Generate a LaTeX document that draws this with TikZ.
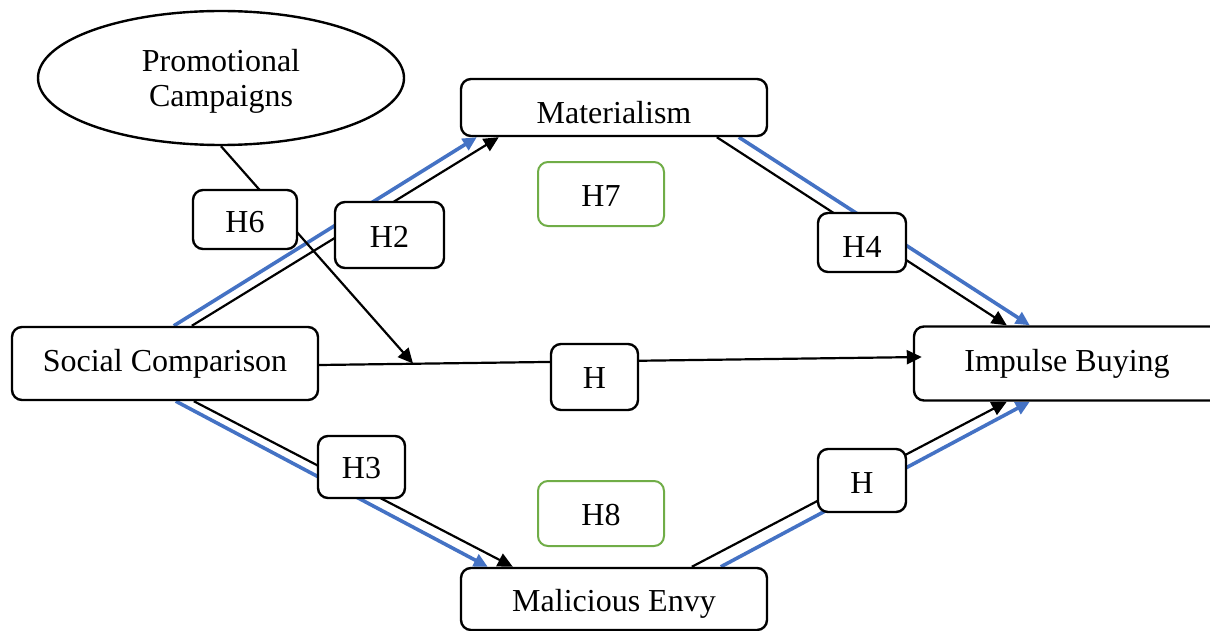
\documentclass[tikz,border=0pt]{standalone}
\usepackage{fontspec}
\setmainfont{Liberation Serif}
\usetikzlibrary{arrows.meta,shapes.geometric,backgrounds}
\definecolor{bl}{HTML}{4472C4}
\definecolor{gr}{HTML}{70AD47}
\pgfdeclarelayer{fg}
\pgfsetlayers{background,main,fg}
\newcommand{\shiftdown}[2]{\raisebox{-#1}[\height][\depth]{#2}}
\begin{document}
\begin{tikzpicture}[x=0.5pt,y=-0.5pt,
  font=\fontsize{16}{17.5}\selectfont,
  box/.style={draw,rounded corners=5pt,line width=1.2pt,fill=white,inner sep=0pt},
  gbox/.style={box,draw=gr,line width=1pt},
  bk/.style={line width=1.1pt,-{Triangle[length=7.5pt,width=7pt]}},
  bu/.style={draw=bl,line width=1.8pt,-{Triangle[length=7pt,width=6.5pt]}}]
\useasboundingbox (0,0) rectangle (1210,631);
% main nodes
\node[draw,ellipse,line width=1.2pt,fill=white,minimum width=183pt,minimum height=67pt,inner sep=0pt] (ell) at (221,78) {\shiftdown{2pt}{\begin{tabular}{@{}c@{}}Promotional\\Campaigns\end{tabular}}};
\node[box,minimum width=153pt,minimum height=28.5pt] (mat) at (614,107.5) {\shiftdown{2.5pt}{Materialism}};
\node[box,minimum width=153pt,minimum height=36.5pt] (sc) at (165,363.5) {Social Comparison};
\node[box,minimum width=153pt,minimum height=37pt] (ib) at (1067,363.5) {Impulse Buying};
\node[box,minimum width=153pt,minimum height=31pt] (me) at (614,599) {\shiftdown{2.5pt}{Malicious Envy}};
% hypothesis labels
\node[gbox,minimum width=63pt,minimum height=32pt] (h7) at (601,194) {\shiftdown{1pt}{H7}};
\node[gbox,minimum width=63pt,minimum height=32.5pt] (h8) at (601,513.5) {\shiftdown{1pt}{H8}};
\node[box,minimum width=52pt,minimum height=29.5pt] (h6) at (245,219.5) {\shiftdown{1.5pt}{H6}};
\node[box,minimum width=54.5pt,minimum height=33pt] (h2) at (389.5,235) {\shiftdown{1pt}{H2}};
\node[box,minimum width=44pt,minimum height=29.5pt] (h4) at (862,242.5) {\shiftdown{2pt}{H4}};
\node[box,minimum width=43.5pt,minimum height=31pt] (h3) at (361.5,467) {\shiftdown{0.5pt}{H3}};
\node[box,minimum width=44pt,minimum height=31.5pt] (h5) at (862,480.5) {\shiftdown{1.5pt}{H}};
\coordinate (h6tip) at (413,363.5);
% connectors
\begin{pgfonlayer}{background}
\draw[bu] ([xshift=81.5pt]sc.north west) -- ([xshift=8.5pt]mat.south west);
\draw[bk] ([xshift=90.5pt]sc.north west) -- ([xshift=19.5pt]mat.south west);
\draw[bu] ([xshift=139.5pt]mat.south west) -- ([xshift=58.5pt]ib.north west);
\draw[bk] ([xshift=128.5pt]mat.south west) -- ([xshift=47pt]ib.north west);
\draw[bu] ([xshift=82.5pt]sc.south west) -- ([xshift=14pt]me.north west);
\draw[bk] ([xshift=91.5pt]sc.south west) -- ([xshift=26.5pt]me.north west);
\draw[bu] ([xshift=130.5pt]me.north west) -- ([xshift=58.5pt]ib.south west);
\draw[bk] ([xshift=116pt]me.north west) -- ([xshift=47pt]ib.south west);
\draw[bk] (ell.south) -- (h6tip);
\end{pgfonlayer}
\begin{pgfonlayer}{fg}
\draw[bk] ([yshift=-0.75pt]sc.east) -- ([xshift=4.5pt,yshift=3.25pt]ib.west);
\node[box,minimum width=43.5pt,minimum height=33pt] (h1) at (594.5,377) {\shiftdown{0.5pt}{H}};
\end{pgfonlayer}
\end{tikzpicture}
\end{document}
